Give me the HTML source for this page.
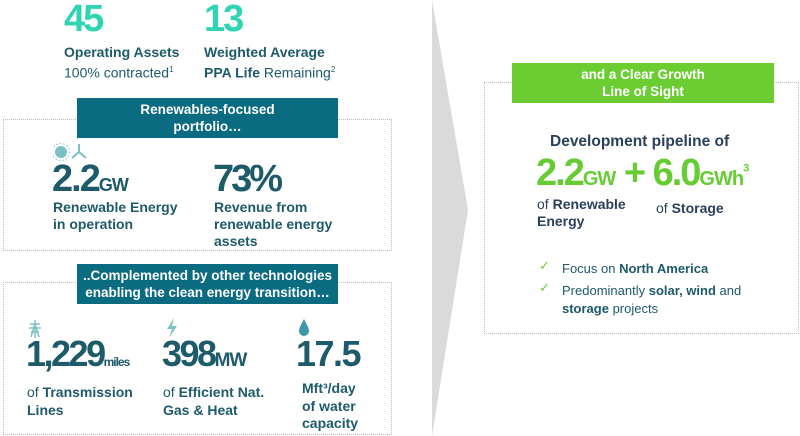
<!DOCTYPE html>
<html><head><meta charset="utf-8">
<style>
*{margin:0;padding:0;box-sizing:border-box}
body{width:800px;height:436px;background:#fff;position:relative;overflow:hidden;font-family:"Liberation Sans",sans-serif;color:#1d5a6a}
.a{position:absolute;white-space:nowrap}
.big{font-weight:bold;letter-spacing:-2px}
.b{font-weight:bold}
.box{position:absolute;border:1.5px dotted #bdbdbd}
.ban{position:absolute;color:#fff;font-weight:bold;font-size:13.5px;text-align:center;line-height:17px;padding-top:3px}
.lbl{font-size:14px;line-height:17px}
</style></head><body>
<svg class="a" style="left:0;top:0" width="800" height="436"><polygon points="432,0 468,210 432,436" fill="#dadada"/></svg>

<div class="a big" style="left:64px;top:-2px;font-size:38px;color:#2fd5b2">45</div>
<div class="a big" style="left:204px;top:-2px;font-size:38px;color:#2fd5b2">13</div>
<div class="a lbl" style="left:64px;top:44px"><b>Operating Assets</b><br>100% contracted<sup style="font-size:8px">1</sup></div>
<div class="a lbl" style="left:204px;top:44px"><b>Weighted Average</b><br><b>PPA Life</b> Remaining<sup style="font-size:8px">2</sup></div>

<div class="box" style="left:3px;top:119px;width:389px;height:132px"></div>
<div class="ban" style="left:77px;top:98px;width:261px;height:40px;background:#0b6b80">Renewables-focused<br>portfolio…</div>
<svg class="a" style="left:53px;top:142px" width="34" height="20"><circle cx="8" cy="10" r="6" fill="#7cc0c4"/><circle cx="8" cy="10" r="8.5" fill="none" stroke="#7cc0c4" stroke-dasharray="1.5 2"/><path d="M26 10 L26 2 M26 10 L19 16 M26 10 L33 16" stroke="#7cc0c4" stroke-width="2"/></svg>
<div class="a big" style="left:52px;top:158px;font-size:38px">2.2<span style="font-size:18px;letter-spacing:-1px">GW</span></div>
<div class="a big" style="left:213px;top:158px;font-size:38px;letter-spacing:-3px">73%</div>
<div class="a lbl b" style="left:53px;top:199px">Renewable Energy<br>in operation</div>
<div class="a lbl b" style="left:214px;top:199px;line-height:17px">Revenue from<br>renewable energy<br>assets</div>

<div class="box" style="left:3px;top:282px;width:389px;height:153px"></div>
<div class="ban" style="left:77px;top:264px;width:261px;height:40px;background:#0b6b80">..Complemented by other technologies<br>enabling the clean energy transition…</div>
<svg class="a" style="left:28px;top:320px" width="14" height="18"><path d="M7 0 V18 M2 4 H12 M1 8 H13 M3 12 H11 M3 17 L7 4 L11 17" stroke="#7cc0c4" stroke-width="1.5" fill="none"/></svg>
<svg class="a" style="left:165px;top:318px" width="14" height="20"><polygon points="9,0 2,11 7,11 4,20 12,8 7,8" fill="#7cc0c4"/></svg>
<svg class="a" style="left:297px;top:318px" width="14" height="20"><path d="M7 1 C4 7 2 10 2 13 A5 5 0 0 0 12 13 C12 10 10 7 7 1Z" fill="#3f98a8"/></svg>
<div class="a big" style="left:26px;top:333px;font-size:36px;letter-spacing:-2.5px">1,229<span style="font-size:12px;letter-spacing:-1px">miles</span></div>
<div class="a big" style="left:162px;top:333px;font-size:36px;letter-spacing:-2.5px">398<span style="font-size:19px;letter-spacing:-1px">MW</span></div>
<div class="a big" style="left:296px;top:333px;font-size:36px;letter-spacing:-1.5px">17.5</div>
<div class="a lbl" style="left:27px;top:383px;line-height:18px">of <b>Transmission<br>Lines</b></div>
<div class="a lbl" style="left:163px;top:383px;line-height:18px">of <b>Efficient Nat.<br>Gas &amp; Heat</b></div>
<div class="a lbl b" style="left:302px;top:380px;line-height:17.5px">Mft³/day<br>of water<br>capacity</div>

<div class="box" style="left:484px;top:82px;width:315px;height:252px"></div>
<div class="ban" style="left:512px;top:63px;width:262px;height:40px;background:#6ccd33">and a Clear Growth<br>Line of Sight</div>
<div class="a b" style="left:550px;top:133px;font-size:15.5px;color:#2a3f5a">Development pipeline of</div>
<div class="a big" style="left:536px;top:152px;font-size:38px;color:#66cc33">2.2<span style="font-size:20px;letter-spacing:-1px">GW</span> + 6.0<span style="font-size:20px;letter-spacing:-1px">GWh</span><sup style="font-size:11px">3</sup></div>
<div class="a lbl" style="left:537px;top:196px;color:#2a3f5a">of <b>Renewable<br>Energy</b></div>
<div class="a lbl" style="left:656px;top:200px;color:#2a3f5a">of <b>Storage</b></div>
<div class="a" style="left:539px;top:258px;font-size:13px;color:#66cc33">✓</div>
<div class="a" style="left:539px;top:280px;font-size:13px;color:#66cc33">✓</div>
<div class="a" style="left:562px;top:261px;font-size:13px">Focus on <b>North America</b></div>
<div class="a" style="left:562px;top:282px;font-size:13px;line-height:18px">Predominantly <b>solar, wind</b> and<br><b>storage</b> projects</div>
</body></html>
